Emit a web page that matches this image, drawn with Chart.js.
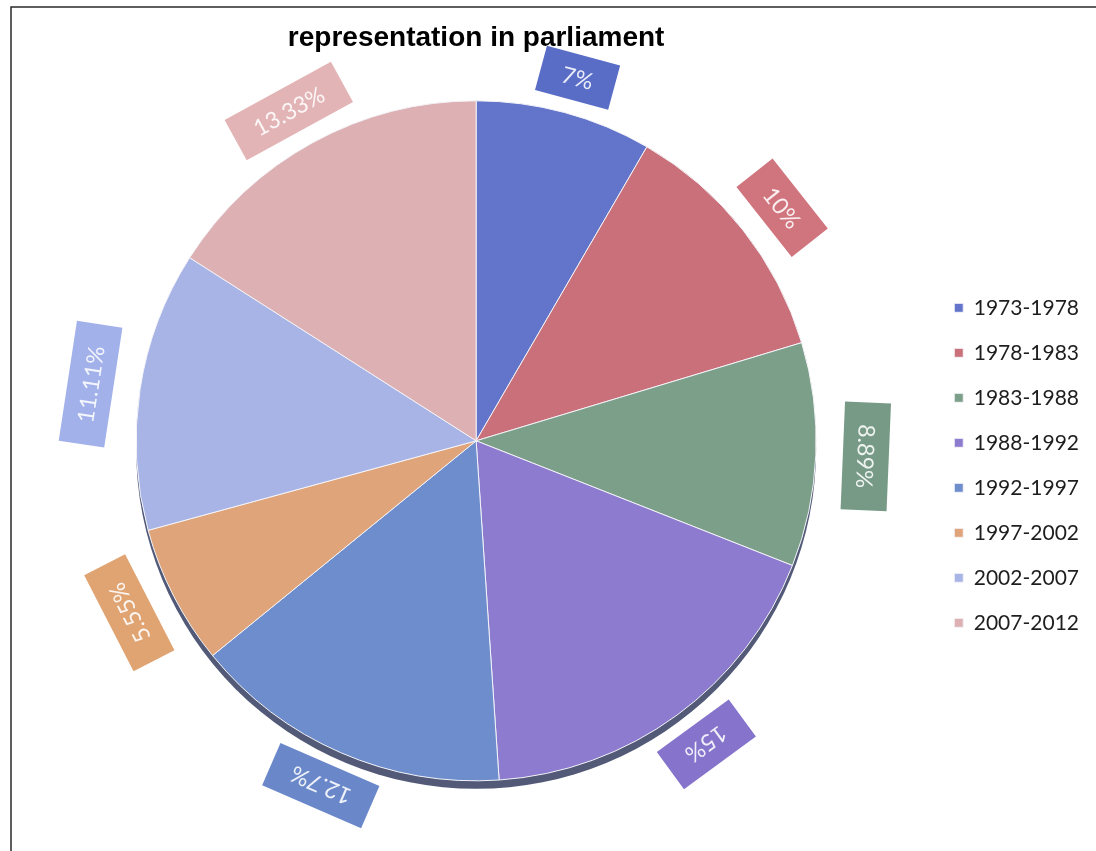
<!DOCTYPE html>
<html>
<head>
<meta charset="utf-8">
<script src="https://cdn.jsdelivr.net/npm/chart.js@4.4.1/dist/chart.umd.min.js"></script>
<style>
  html, body { margin: 0; padding: 0; background: #ffffff; }
  #wrap { position: relative; width: 1096px; height: 851px; }
</style>
</head>
<body>
<div id="wrap"><canvas id="c" width="1096" height="851"></canvas></div>
<script>
// ---- data ----
const chartTitle = 'representation in parliament';
const categories = ['1973-1978', '1978-1983', '1983-1988', '1988-1992', '1992-1997', '1997-2002', '2002-2007', '2007-2012'];
const shares = [7, 10, 8.89, 15, 12.7, 5.55, 11.11, 13.33];
const sliceColors = ['#6275cb', '#c9707a', '#7c9f8a', '#8c7bcf', '#6d8dcd', '#dfa47a', '#a8b4e6', '#ddb0b4'];
const boxColors = ['#5a6dc6', '#d0747e', '#769a86', '#8573cc', '#6a88c9', '#e0a372', '#a3b1ea', '#e3b4b6'];

const frameLines = {
  id: 'frameLines',
  beforeDraw(chart) {
    const ctx = chart.ctx;
    ctx.save();
    ctx.strokeStyle = '#2a2a2a';
    ctx.lineWidth = 1.5;
    ctx.beginPath();
    ctx.moveTo(11, chart.height);
    ctx.lineTo(11, 7);
    ctx.lineTo(chart.width + 5, 7);
    ctx.stroke();
    ctx.restore();
  }
};

const rim3d = {
  id: 'rim3d',
  beforeDatasetsDraw(chart) {
    const arc = chart.getDatasetMeta(0).data[0];
    if (!arc) return;
    const p = arc.getProps(['x', 'y', 'outerRadius'], true);
    const ctx = chart.ctx;
    ctx.save();
    ctx.beginPath();
    ctx.arc(p.x, p.y + 8, p.outerRadius, 0, Math.PI * 2);
    ctx.fillStyle = '#525a78';
    ctx.fill();
    ctx.restore();
  }
};

const outsideLabels = {
  id: 'outsideLabels',
  afterDatasetsDraw(chart) {
    const ctx = chart.ctx;
    const meta = chart.getDatasetMeta(0);
    const vals = chart.data.datasets[0].data;
    meta.data.forEach((arc, i) => {
      const p = arc.getProps(['x', 'y', 'startAngle', 'endAngle', 'outerRadius'], true);
      const mid = (p.startAngle + p.endAngle) / 2;
      const rx = p.outerRadius + 50;
      const ry = p.outerRadius + 36;
      const cx = p.x + Math.cos(mid) * rx;
      const cy = p.y + Math.sin(mid) * ry;
      const text = vals[i] + '%';
      ctx.save();
      ctx.translate(cx, cy);
      ctx.rotate(mid + Math.PI / 2);
      ctx.font = '23px Lato';
      const tw = ctx.measureText(text).width;
      const w = tw + 44, h = 46;
      ctx.fillStyle = boxColors[i];
      ctx.fillRect(-w / 2, -h / 2, w, h);
      ctx.fillStyle = 'rgba(255,255,255,0.88)';
      ctx.textAlign = 'center';
      ctx.textBaseline = 'middle';
      ctx.fillText(text, 0, 1);
      ctx.restore();
    });
  }
};

new Chart(document.getElementById('c'), {
  type: 'pie',
  data: {
    labels: categories,
    datasets: [{
      data: shares,
      backgroundColor: sliceColors,
      borderColor: '#f4f4f8',
      borderWidth: 1,
      radius: 340,
      clip: false
    }]
  },
  plugins: [frameLines, rim3d, outsideLabels],
  options: {
    responsive: false,
    animation: false,
    devicePixelRatio: 1,
    layout: { padding: { left: 22, right: 7, top: 0, bottom: 34 } },
    plugins: {
      title: {
        display: true,
        text: chartTitle,
        fullSize: false,
        color: '#000000',
        font: { family: 'Liberation Sans', size: 28, weight: 'bold' },
        padding: { top: 21, bottom: 10 }
      },
      legend: {
        position: 'right',
        fullSize: false,
        align: 'center',
        title: { display: true, text: '', font: { size: 10 }, padding: { top: 19, bottom: 18 } },
        labels: {
          boxWidth: 9,
          boxHeight: 9,
          padding: 24,
          color: '#1e1e1e',
          font: { family: 'Lato', size: 21 }
        }
      },
      tooltip: { enabled: false }
    }
  }
});
</script>
</body>
</html>
